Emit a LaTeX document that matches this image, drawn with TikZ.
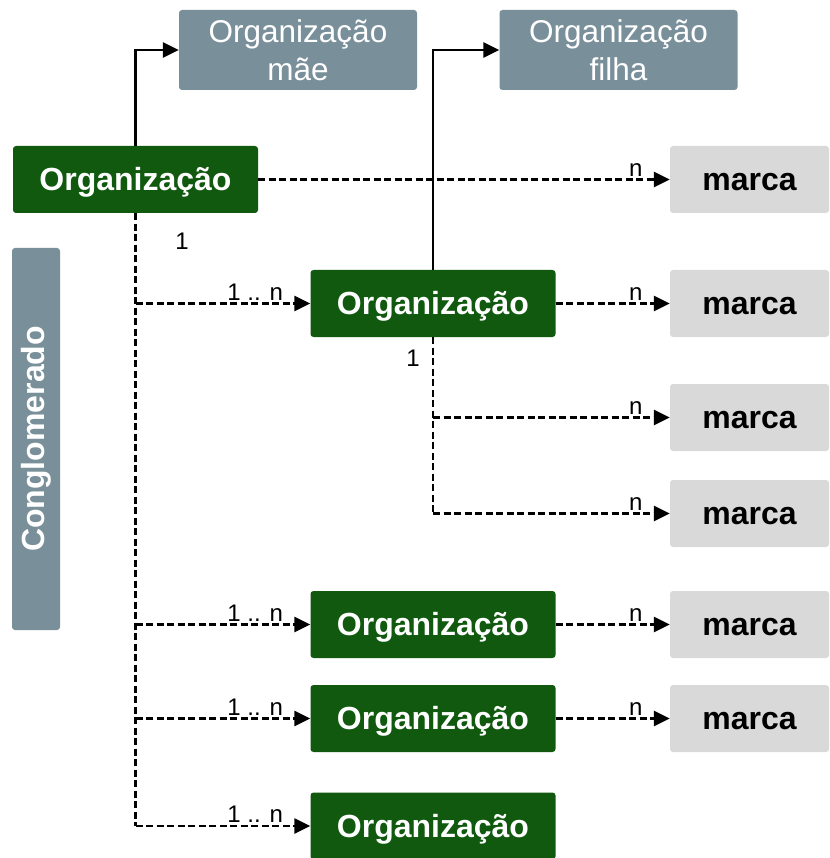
\documentclass[tikz,border=0pt]{standalone}
\usepackage{fontspec}
\setmainfont{Liberation Sans}
\usetikzlibrary{arrows.meta}

\definecolor{orggreen}{HTML}{10590F}
\definecolor{slate}{HTML}{798F9A}
\definecolor{lightgrey}{HTML}{D9D9D9}

\tikzset{
    box/.style={rounded corners=3pt, inner sep=0pt, align=center},
    org/.style={box, fill=orggreen, text=white, minimum width=245pt, minimum height=67pt,
        text height=23pt, text depth=1pt, font=\fontsize{32}{38}\selectfont\bfseries},
    marcabox/.style={box, fill=lightgrey, text=black, minimum width=159pt, minimum height=67pt,
        text height=23pt, text depth=1pt, font=\fontsize{32}{38}\selectfont\bfseries},
    parentbox/.style={box, fill=slate, text=white, minimum width=238pt, minimum height=80pt,
        font=\fontsize{31.5}{38.5}\selectfont},
    lbl/.style={inner sep=2pt, font=\fontsize{24}{28}\selectfont},
    link/.style={line width=2.5pt, -{Triangle[length=16pt,width=15pt]}},
    dashlink/.style={link, dash pattern=on 7pt off 3.5pt},
    trunk/.style={line width=2.5pt, dash pattern=on 7pt off 3.5pt}
}

\begin{document}
\begin{tikzpicture}[x=1pt, y=-1pt]
    \useasboundingbox (0,0) rectangle (829,858);

    % parents
    \node[parentbox] (mae) at (298,50) {Organização\\mãe};
    \node[parentbox] (filha) at (618.5,50) {Organização\\filha};

    % conglomerado
    \node[box, fill=slate, text=white, rotate=90, minimum width=382pt, minimum height=48pt,
        font=\fontsize{32}{38}\selectfont\bfseries] (congl) at (36,439) {Conglomerado};

    % organizations
    \node[org] (org1) at (135.5,179.5) {Organização};
    \node[org] (org2) at (433,303.5) {Organização};
    \node[org] (org3) at (433,624.5) {Organização};
    \node[org] (org4) at (433,718.5) {Organização};
    \node[org] (org5) at (433,826) {Organização};

    % brands
    \node[marcabox] (marca1) at (749.5,179.5) {marca};
    \node[marcabox] (marca2) at (749.5,303.5) {marca};
    \node[marcabox] (marca3) at (749.5,417.5) {marca};
    \node[marcabox] (marca4) at (749.5,513.5) {marca};
    \node[marcabox] (marca5) at (749.5,624.5) {marca};
    \node[marcabox] (marca6) at (749.5,718.5) {marca};

    % parent links
    \draw[link] (org1.north) |- (mae.west);
    \draw[link] (org2.north) |- (filha.west);

    % org1 tree
    \draw[trunk] (org1.south) -- (org1.south |- org5.west);
    \node[lbl] (one1) at (182,241) {1};
    \draw[dashlink] (org1.south |- org2.west) -- (org2.west)
        node[lbl, pos=1, anchor=south east, xshift=-24pt] (card2) {1 .. n};
    \draw[dashlink] (org1.south |- org3.west) -- (org3.west)
        node[lbl, pos=1, anchor=south east, xshift=-24pt] (card3) {1 .. n};
    \draw[dashlink] (org1.south |- org4.west) -- (org4.west)
        node[lbl, pos=1, anchor=south east, xshift=-24pt] (card4) {1 .. n};
    \draw[dashlink] (org1.south |- org5.west) -- (org5.west)
        node[lbl, pos=1, anchor=south east, xshift=-24pt] (card5) {1 .. n};

    % org2 tree
    \draw[trunk] (org2.south) -- (org2.south |- marca4.west);
    \node[lbl] (one2) at (413,358) {1};
    \draw[dashlink] (org2.south |- marca3.west) -- (marca3.west)
        node[lbl, pos=1, anchor=south east, xshift=-24pt] (n3) {n};
    \draw[dashlink] (org2.south |- marca4.west) -- (marca4.west)
        node[lbl, pos=1, anchor=south east, xshift=-24pt] (n4) {n};

    % brands
    \draw[dashlink] (org1.east) -- (marca1.west)
        node[lbl, pos=1, anchor=south east, xshift=-24pt] (n1) {n};
    \draw[dashlink] (org2.east) -- (marca2.west)
        node[lbl, pos=1, anchor=south east, xshift=-24pt] (n2) {n};
    \draw[dashlink] (org3.east) -- (marca5.west)
        node[lbl, pos=1, anchor=south east, xshift=-24pt] (n5) {n};
    \draw[dashlink] (org4.east) -- (marca6.west)
        node[lbl, pos=1, anchor=south east, xshift=-24pt] (n6) {n};
\end{tikzpicture}
\end{document}
